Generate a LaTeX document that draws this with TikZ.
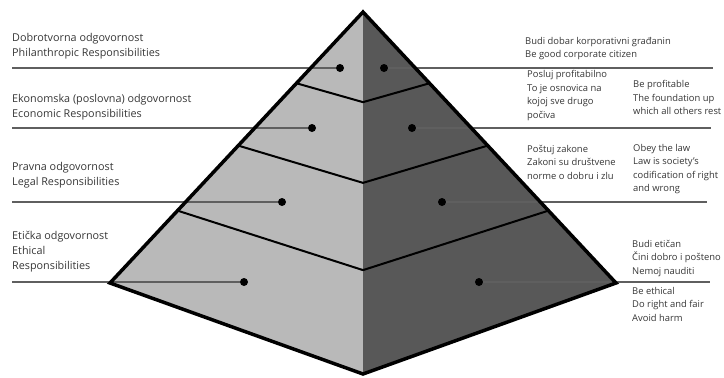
\documentclass[tikz,border=0pt]{standalone}
\usepackage{fontspec}
\setmainfont{Open Sans}
\usetikzlibrary{calc,positioning}
\definecolor{pyrlight}{RGB}{185,185,185}
\definecolor{pyrdark}{RGB}{88,88,88}
\definecolor{leadgray}{RGB}{95,95,95}
\definecolor{txtgray}{RGB}{55,55,55}

\begin{document}
\begin{tikzpicture}[x=1pt, y=-1pt,
  edge/.style={line width=3.5pt, line join=miter},
  band/.style={line width=2pt},
  dot/.style={circle, fill=black, inner sep=0pt, minimum size=8pt},
  lead/.style={draw=leadgray, line width=1.2pt},
  lbl/.style={anchor=west, align=left, inner sep=0pt, text=txtgray, font=\fontsize{10.8}{15}\selectfont},
  rlbl/.style={lbl, font=\fontsize{9.4}{13.5}\selectfont}
]
\useasboundingbox (0,0) rectangle (724,378);
\fill[white] (0,0) rectangle (724,378);
% pyramid corners
\coordinate (top) at (363,12);
\coordinate (L) at (110,283);
\coordinate (R) at (616,283);
\coordinate (B) at (363,374);
% two faces
\fill[pyrlight] (top) -- (L) -- (B) -- cycle;
\fill[pyrdark] (top) -- (R) -- (B) -- cycle;
% dots and leader lines
\foreach \i/\y/\xl/\xr/\xe in {1/68/340/384/713, 2/128/312/412/711, 3/202/282/442/707, 4/282/244/479/710} {
  \node[dot] (dl\i) at (\xl,\y) {};
  \node[dot] (dr\i) at (\xr,\y) {};
  \coordinate (ml\i) at (12,\y);
  \coordinate (mr\i) at (\xe,\y);
  \draw[lead] (ml\i) -- (dl\i);
  \draw[lead] (dr\i) -- (mr\i);
}
% levels
\foreach \e/\c in {0.263/0.249, 0.493/0.472, 0.733/0.713}
  \draw[band] ($(top)!\e!(L)$) -- ($(top)!\c!(B)$) -- ($(top)!\e!(R)$);
\draw[edge] (top) -- (L) -- (B) -- (R) -- cycle;
% left labels
\node[lbl] (phil) at (12,46) {Dobrotvorna odgovornost\\Philanthropic Responsibilities};
\node[lbl] (econ) at (12,107.5) {Ekonomska (poslovna) odgovornost\\Economic Responsibilities};
\node[lbl] (legal) at (12,175.5) {Pravna odgovornost\\Legal Responsibilities};
\node[lbl] (ethic) at (12,252) {Etička odgovornost\\Ethical\\Responsibilities};
% right labels
\node[rlbl] (citizen) at (525,48.5) {Budi dobar korporativni građanin\\Be good corporate citizen};
\node[rlbl] (profhr) at (527,95.5) {Posluj profitabilno\\To je osnovica na\\kojoj sve drugo\\počiva};
\node[rlbl] (profen) at (633,97.5) {Be profitable\\The foundation up\\which all others rest};
\node[rlbl] (lawhr) at (527,162) {Poštuj zakone\\Zakoni su društvene\\norme o dobru i zlu};
\node[rlbl] (lawen) at (633,169) {Obey the law\\Law is society's\\codification of right\\and wrong};
\node[rlbl] (ethhr) at (632,258.5) {Budi etičan\\Čini dobro i pošteno\\Nemoj nauditi};
\node[rlbl] (ethen) at (632,304) {Be ethical\\Do right and fair\\Avoid harm};
\end{tikzpicture}
\end{document}
